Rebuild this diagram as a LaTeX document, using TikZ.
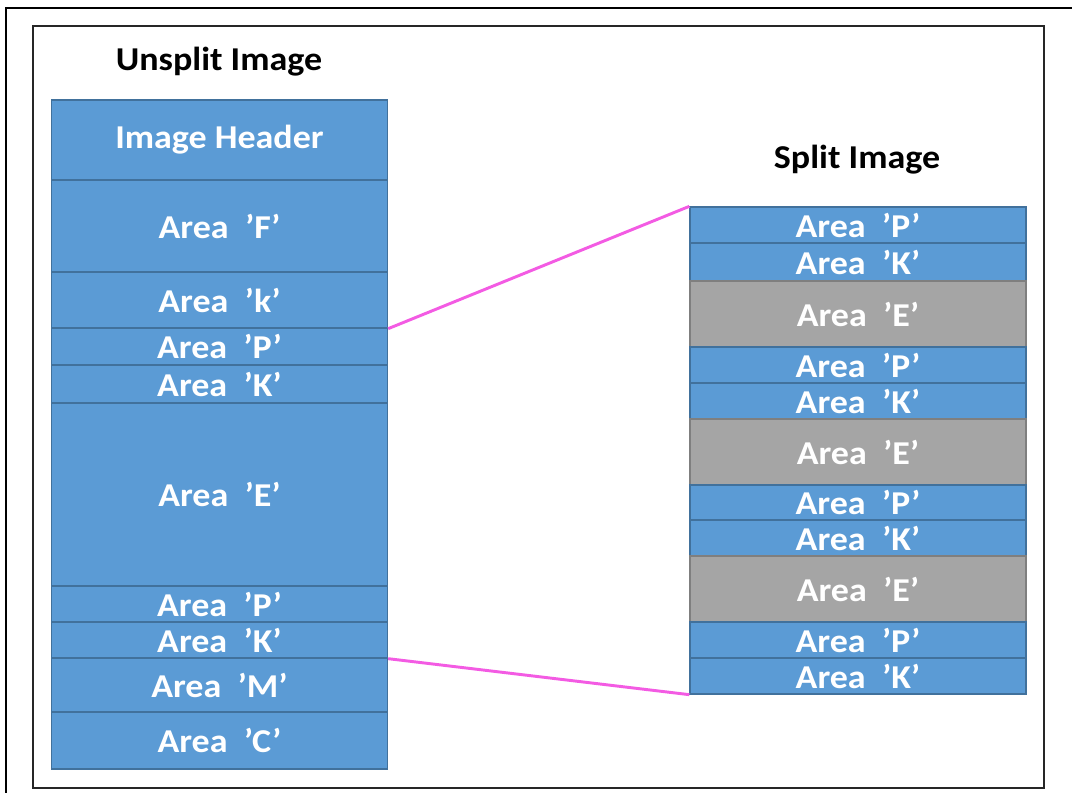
\documentclass[tikz,border=0pt]{standalone}
\usepackage{fontspec}
\setmainfont{Carlito}[FakeStretch=1.08]
\usepackage{xcolor}
\usepackage{tikz}
\usetikzlibrary{positioning}
\definecolor{areablue}{HTML}{5B9BD5}
\definecolor{areaedge}{HTML}{41719C}
\definecolor{areagray}{HTML}{A5A5A5}
\definecolor{grayedge}{HTML}{7F7F7F}
\definecolor{linkpink}{HTML}{F35BE3}
\tikzstyle{areanode}=[white, draw=areaedge, line width=1pt, shape=rectangle, fill=areablue, minimum width=252pt, inner sep=0pt, font=\fontsize{25}{30}\selectfont\bfseries]
\tikzstyle{emptynode}=[areanode, fill=areagray, draw=grayedge]
\tikzstyle{titlenode}=[black, inner sep=0pt, font=\fontsize{25}{30}\selectfont\bfseries]
\tikzstyle{linkline}=[linkpink, line width=2.2pt]

\begin{document}
\begin{tikzpicture}[x=0.75pt, y=-0.75pt]
\useasboundingbox (0,0) rectangle (1072,793);
\draw[line width=2pt] (6,793) -- (6,8) -- (1072,8);
\draw[line width=1.6pt, black!85] (33,26) rectangle (1044,788);

\node [titlenode] (unsplit) at (219,62) {Unsplit Image};
\node [titlenode] (split) at (857,160) {Split Image};

% unsplit image
\node [areanode, minimum height=60pt] (uhdr) at (219.5,140) {Image Header};
\node [areanode, minimum height=69pt] (uF) at (219.5,226) {Area~~’F’};
\node [areanode, minimum height=42pt] (uk) at (219.5,300) {Area~~’k’};
\node [areanode, minimum height=27.75pt] (uP1) at (219.5,346.5) {Area~~’P’};
\node [areanode, minimum height=28.5pt] (uK1) at (219.5,384) {Area~~’K’};
\node [areanode, minimum height=137.25pt] (uE) at (219.5,494.5) {Area~~’E’};
\node [areanode, minimum height=27pt] (uP2) at (219.5,604) {Area~~’P’};
\node [areanode, minimum height=27pt] (uK2) at (219.5,640) {Area~~’K’};
\node [areanode, minimum height=40.5pt] (uM) at (219.5,685) {Area~~’M’};
\node [areanode, minimum height=42.75pt] (uC) at (219.5,740.5) {Area~~’C’};

% split image
\node [areanode, minimum height=27pt] (sP1) at (858,225) {Area~~’P’};
\node [areanode, minimum height=28.5pt] (sK1) at (858,262) {Area~~’K’};
\node [emptynode, minimum height=49.5pt] (sE1) at (858,314) {Area~~’E’};
\node [areanode, minimum height=27pt] (sP2) at (858,365) {Area~~’P’};
\node [areanode, minimum height=27pt] (sK2) at (858,401) {Area~~’K’};
\node [emptynode, minimum height=49.5pt] (sE2) at (858,452) {Area~~’E’};
\node [areanode, minimum height=26.25pt] (sP3) at (858,502.5) {Area~~’P’};
\node [areanode, minimum height=27pt] (sK3) at (858,538) {Area~~’K’};
\node [emptynode, minimum height=49.5pt] (sE3) at (858,589) {Area~~’E’};
\node [areanode, minimum height=27pt] (sP4) at (858,640) {Area~~’P’};
\node [areanode, minimum height=27pt] (sK4) at (858,676) {Area~~’K’};

\draw[linkline] (uk.south east) -- (sP1.north west);
\draw[linkline] (uK2.south east) -- (sK4.south west);
\end{tikzpicture}
\end{document}
